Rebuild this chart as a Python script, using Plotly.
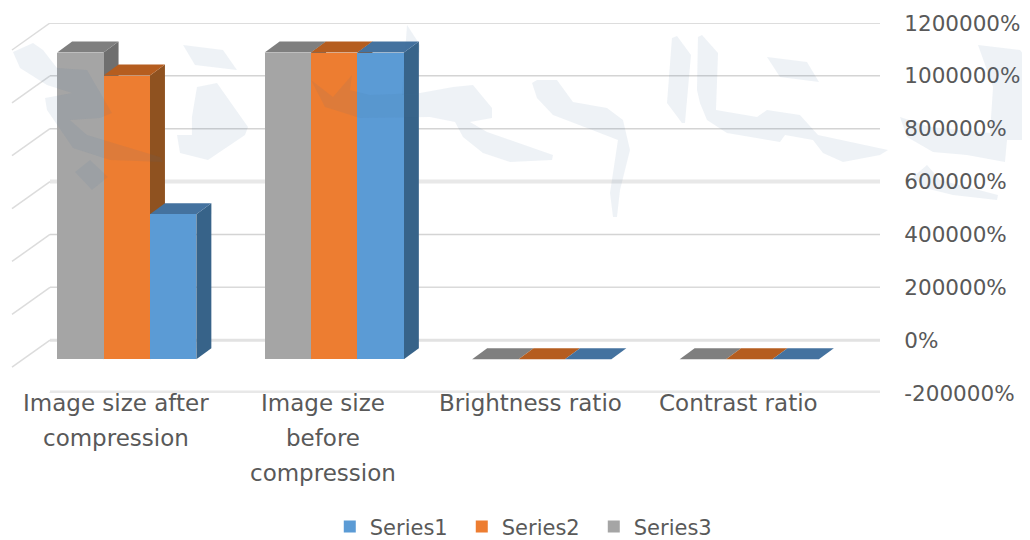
import plotly.graph_objects as go

categories = ["Image size after<br>compression", "Image size<br>before<br>compression", "Brightness ratio", "Contrast ratio"]
series_names = ["Series1", "Series2", "Series3"]
series1 = [548000, 1160000, 0, 0]
series2 = [1073000, 1160000, 0, 0]
series3 = [1160000, 1160000, 0, 0]
tick_values = [1200000, 1000000, 800000, 600000, 400000, 200000, 0, -200000]
tick_labels = ["1200000%", "1000000%", "800000%", "600000%", "400000%", "200000%", "0%", "-200000%"]

front_colors = ["#5B9BD5", "#ED7D31", "#A5A5A5"]
top_colors = ["#44729F", "#B55D1F", "#7F7F7F"]
side_colors = ["#376389", "#8F5220", "#6F6F6F"]
grid_widths = [2, 1.5, 1.5, 4, 1.5, 1.5, 3, 5]
grid_colors = ["#DDDDDD", "#D4D4D4", "#D4D4D4", "#E8E8E8", "#D4D4D4", "#DADADA", "#E2E2E2", "#E8E8E8"]

# pixel geometry of the plot, in page coordinates (the page body adds an 8px margin)
PAGE = 8
L, R, T, B = 8, 892, 23, 393
W, H = 1030, 580
CAT_PX = 207.5
C0 = 126.75
BAR_PX = 46.4
ymin, ymax = -200000, 1200000
PER_PX = (ymax - ymin) / (B - T)
x0 = (L - C0) / CAT_PX
x1 = (R - C0) / CAT_PX
bw = BAR_PX / CAT_PX
ddx = 15 / CAT_PX
ddy = 11 * PER_PX
base = -19 * PER_PX          # bars stand on the front of the floor
wall_x = (50 - C0) / CAT_PX
wall_dx = -38 / CAT_PX
wall_dy = -27 * PER_PX
grid_right = (880 - C0) / CAT_PX

fig = go.Figure()

# back wall gridlines and side wall lines
for v, w, c in zip(tick_values, grid_widths, grid_colors):
    fig.add_trace(go.Scatter(x=[wall_x, grid_right], y=[v, v], mode="lines", line=dict(color=c, width=w),
                             showlegend=False, hoverinfo="skip", cliponaxis=False))
    fig.add_trace(go.Scatter(x=[wall_x, wall_x + wall_dx], y=[v, v + wall_dy], mode="lines",
                             line=dict(color="#DCDCDC", width=1.5), showlegend=False, hoverinfo="skip",
                             cliponaxis=False))

series = [series1, series2, series3]
slots = [1, 0, -1]  # series 3 on the left, series 1 on the right

# top and side faces, left to right
for k in [2, 1, 0]:
    for i, val in enumerate(series[k]):
        xl = i + (slots[k] - 0.5) * bw
        xr = xl + bw
        top = base + val
        if val > 0:
            fig.add_trace(go.Scatter(x=[xr, xr, xr + ddx, xr + ddx, xr], y=[base, top, top + ddy, base + ddy, base],
                                     mode="lines", fill="toself", fillcolor=side_colors[k], line=dict(width=0),
                                     showlegend=False, hoverinfo="skip", cliponaxis=False))
        fig.add_trace(go.Scatter(x=[xl, xr, xr + ddx, xl + ddx, xl], y=[top, top, top + ddy, top + ddy, top],
                                 mode="lines", fill="toself", fillcolor=top_colors[k], line=dict(width=0),
                                 showlegend=False, hoverinfo="skip", cliponaxis=False))

# front faces
for k in range(3):
    fig.add_trace(go.Bar(x=[i + slots[k] * bw for i in range(4)], y=series[k], base=base, width=bw,
                         name=series_names[k], marker=dict(color=front_colors[k], line=dict(width=0)),
                         xaxis="x2", yaxis="y2"))


def px(x, y):
    return f"{(x - L) / (R - L):.4f},{(B - y) / (B - T):.4f}"


def blob(points):
    return "M" + " L".join(px(a, b) for a, b in points) + " Z"


# faint background watermark (page pixel outlines)
watermark = [
    [(13, 52), (33, 43), (43, 50), (57, 68), (87, 70), (112, 113), (100, 118), (70, 120), (87, 135), (160, 157),
     (163, 162), (110, 160), (73, 148), (47, 110), (45, 98), (72, 93), (47, 85), (20, 68)],
    [(90, 160), (108, 177), (92, 190), (75, 172)],
    [(183, 45), (223, 50), (237, 70), (195, 65)],
    [(197, 87), (217, 83), (248, 127), (245, 135), (208, 160), (180, 153), (177, 135), (192, 135), (192, 117)],
    [(311, 80), (333, 97), (352, 75), (350, 90), (370, 95), (420, 93), (453, 87), (473, 85), (492, 108), (492, 118),
     (470, 122), (487, 132), (553, 155), (552, 160), (510, 162), (483, 153), (463, 137), (455, 122), (430, 117),
     (360, 118), (325, 107)],
    [(407, 25), (420, 45), (418, 95), (402, 95)],
    [(532, 83), (537, 80), (557, 80), (573, 102), (607, 108), (623, 120), (630, 150), (620, 190), (617, 217),
     (613, 217), (610, 193), (618, 140), (587, 128), (553, 115), (537, 98)],
    [(672, 38), (677, 36), (691, 55), (685, 123), (682, 123), (667, 103)],
    [(698, 37), (702, 35), (718, 53), (716, 110), (757, 117), (767, 110), (800, 115), (818, 135), (888, 150),
     (880, 155), (843, 162), (823, 153), (813, 140), (785, 135), (780, 142), (727, 133), (707, 120), (700, 103),
     (697, 90)],
    [(767, 57), (807, 62), (819, 82), (780, 77)],
    [(978, 45), (1020, 50), (1030, 63), (1030, 140), (1007, 140), (1005, 162), (967, 155), (933, 152), (907, 137),
     (900, 117), (930, 127), (990, 133), (993, 87)],
    [(913, 177), (927, 165), (940, 180), (998, 195), (997, 200), (953, 195), (925, 188)],
]
shapes = [dict(type="path", xref="paper", yref="paper", path=blob(p), fillcolor="rgba(70,110,150,0.09)",
               line=dict(width=0), layer="above") for p in watermark]

# category labels, one annotation per line
annotations = []
for i, label in enumerate(categories):
    for j, line in enumerate(label.split("<br>")):
        annotations.append(dict(x=i - 11 / CAT_PX, y=0, xref="x", yref="paper", yanchor="middle", xanchor="center",
                                yshift=-10 - 35 * j, text=line, showarrow=False,
                                font=dict(family="DejaVu Sans", size=23, color="#595959")))

fig.update_layout(
    width=W, height=H, autosize=False,
    margin=dict(l=L - PAGE, r=W - (R - PAGE), t=T - PAGE, b=H - (B - PAGE), pad=0),
    paper_bgcolor="white", plot_bgcolor="white",
    barmode="overlay", bargap=0,
    shapes=shapes, annotations=annotations,
    font=dict(family="DejaVu Sans", color="#595959"),
    xaxis=dict(range=[x0, x1], visible=False, fixedrange=True),
    yaxis=dict(range=[ymin, ymax], side="right", tickmode="array", tickvals=tick_values, ticktext=tick_labels,
               showgrid=False, zeroline=False, showline=False, ticks="outside", ticklen=7, tickcolor="rgba(0,0,0,0)",
               tickfont=dict(family="DejaVu Sans", size=21.5, color="#595959"), fixedrange=True),
    xaxis2=dict(range=[x0, x1], overlaying="x", visible=False, fixedrange=True),
    yaxis2=dict(range=[ymin, ymax], overlaying="y", visible=False, fixedrange=True),
    legend=dict(orientation="h", x=0.364, xanchor="left", y=-0.362, yanchor="middle", traceorder="normal",
                entrywidth=87, entrywidthmode="pixels",
                font=dict(family="DejaVu Sans", size=21, color="#595959"), bgcolor="rgba(0,0,0,0)"),
    showlegend=True,
)

fig.write_html("out.html", config=dict(displayModeBar=False))
